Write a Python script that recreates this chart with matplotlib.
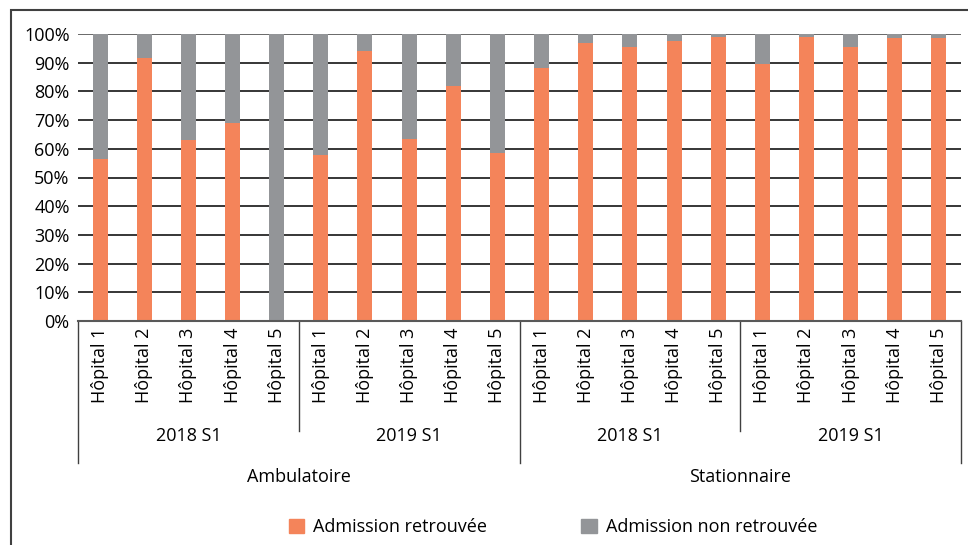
import matplotlib.pyplot as plt
import matplotlib.transforms as mtransforms
from matplotlib.patches import Rectangle, Patch
import numpy as np

plt.rcParams['font.family'] = ['Open Sans', 'DejaVu Sans']

hopitaux = ['Hôpital 1', 'Hôpital 2', 'Hôpital 3', 'Hôpital 4', 'Hôpital 5']
periodes = ['2018 S1', '2019 S1']
types = ['Ambulatoire', 'Stationnaire']

# % admission retrouvee, ordre: Ambu 2018, Ambu 2019, Stat 2018, Stat 2019
retrouvee = [56.5, 91.5, 63.0, 69.0, 0.5,
             58.0, 94.0, 63.5, 82.0, 58.5,
             88.0, 97.0, 95.5, 97.5, 98.8,
             89.5, 99.0, 95.5, 98.5, 98.5]
non_retrouvee = [100 - v for v in retrouvee]

orange = '#F4845A'
gris = '#939598'
fs = 13

fig = plt.figure(figsize=(9.68, 5.45), dpi=100)
ax = fig.add_axes([78/968, 1-321/545, (961-78)/968, (321-34)/545])

n = len(retrouvee)
x = np.arange(n)
ax.bar(x, retrouvee, width=0.34, color=orange, zorder=2)
ax.bar(x, non_retrouvee, bottom=retrouvee, width=0.34, color=gris, zorder=2)

ax.set_xlim(-0.5, n - 0.5)
ax.set_ylim(0, 100)
ax.set_yticks(range(0, 101, 10))
ax.set_yticklabels([f'{v}%' for v in range(0, 101, 10)], fontsize=fs)
for v in range(10, 101, 10):
    ax.axhline(v, color='black' if v < 100 else '#404040', lw=1.1, zorder=1)

labels = hopitaux * (len(periodes) * len(types))
ax.set_xticks(x)
ax.set_xticklabels(labels, rotation=90, fontsize=fs, va='top')
ax.tick_params(axis='both', length=0)
ax.tick_params(axis='y', pad=6)
ax.tick_params(axis='x', pad=5)

for s in ['top', 'right', 'left']:
    ax.spines[s].set_visible(False)
ax.spines['bottom'].set_color('#595959')
ax.spines['bottom'].set_linewidth(1.5)

# separateurs et libelles des groupes
trans = mtransforms.blended_transform_factory(ax.transData, ax.transAxes)
y_mid = -110/287
y_low = -142/287
for i in range(len(types) * len(periodes) + 1):
    xs = i * 5 - 0.5
    y_end = y_low if i % 2 == 0 else y_mid
    ax.plot([xs, xs], [0, y_end], color='#404040', lw=1, transform=trans, clip_on=False)

for j in range(len(types)):
    for k, p in enumerate(periodes):
        c = j * 10 + k * 5 + 2
        ax.text(c, -(436-321)/287, p, transform=trans, ha='center', va='center', fontsize=fs)
    ax.text(j * 10 + 4.5, -(477-321)/287, types[j], transform=trans,
            ha='center', va='center', fontsize=fs)

handles = [Patch(color=orange, label='Admission retrouvée'),
           Patch(color=gris, label='Admission non retrouvée')]
fig.legend(handles=handles, loc='center', bbox_to_anchor=(553/968, 1-527/545),
           ncol=2, frameon=False, fontsize=fs, handlelength=0.85, handleheight=0.85,
           columnspacing=5.2, handletextpad=0.5, borderpad=0)

# cadre
fig.patches.append(Rectangle((11/968, -0.1), 1.2, 1.1 - 10/545, transform=fig.transFigure,
                             fill=False, edgecolor='#404040', lw=1.5))

fig.savefig('out.png', dpi=100)
